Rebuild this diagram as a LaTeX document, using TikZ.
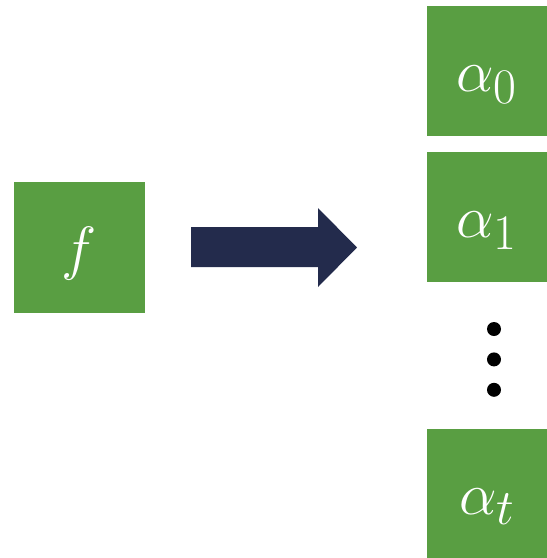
\documentclass[tikz,border=0pt]{standalone}
\usepackage{amsmath}
\usepackage{graphicx}
\usepackage{tikz}
\usetikzlibrary{positioning,calc}
\definecolor{boxgreen}{RGB}{89,158,66}
\definecolor{arrownavy}{RGB}{35,43,76}
\newcommand{\bigsym}[1]{\raisebox{-21pt}[0pt][0pt]{\scalebox{2.4}{\Huge$#1$}}}

\begin{document}
\begin{tikzpicture}[x=1pt, y=-1pt,
  greenbox/.style={fill=boxgreen, text=white, inner sep=0pt,
    minimum width=120pt, minimum height=130pt},
  dot/.style={fill=black, circle, inner sep=0pt, minimum size=14pt}]
    \useasboundingbox (0,0) rectangle (547,558);
    \node (F) [greenbox, minimum width=131pt, minimum height=131pt] at (79.5,247.5) {\bigsym{f}};
    \node (A0) [greenbox] at (487,70.5) {\bigsym{\alpha_0}};
    \node (A1) [greenbox] at (487,216.5) {\bigsym{\alpha_1}};
    \node (At) [greenbox, minimum height=129pt] at (487,493.5) {\bigsym{\alpha_t}};
    \node (D1) [dot] at (494,329) {};
    \node (D2) [dot, below=16pt of D1] {};
    \node (D3) [dot, below=16pt of D2] {};
    % block arrow
    \fill[arrownavy] (191,227) -- (318,227) -- (318,208) -- (357,247.5)
      -- (318,287) -- (318,267) -- (191,267) -- cycle;
  \end{tikzpicture}
\end{document}
